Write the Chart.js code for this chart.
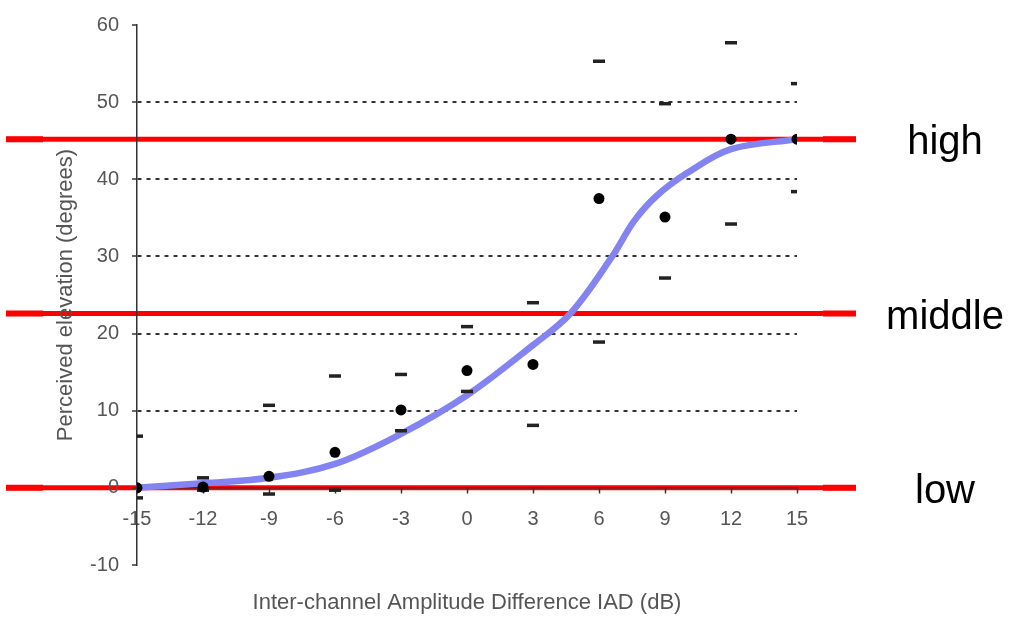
<!DOCTYPE html>
<html><head><meta charset="utf-8">
<script src="https://cdn.jsdelivr.net/npm/chart.js@4/dist/chart.umd.min.js"></script>
<style>html,body{margin:0;padding:0;background:#fff;overflow:hidden}#wrap{width:1009px;height:617px}</style>
</head><body><div id="wrap"><canvas id="c" width="1009" height="617"></canvas></div>
<script>
// ---- data ----
const iadValues   = [-15, -12, -9, -6, -3, 0, 3, 6, 9, 12, 15];
const meanValues  = [0, 0.1, 1.5, 4.6, 10.1, 15.2, 16.0, 37.5, 35.1, 45.2, 45.2];
const upperValues = [6.7, 1.3, 10.7, 14.5, 14.7, 20.9, 24.0, 55.3, 49.8, 57.7, 52.4];
const lowerValues = [-1.3, -0.3, -0.8, -0.3, 7.4, 12.5, 8.1, 18.9, 27.2, 34.2, 38.4];
const curveX = [-15, -12, -9, -6, -3, 0, 3, 4.7, 6.6, 7.6, 8.6, 10, 12, 15];
const curveY = [0, 0.6, 1.3, 3.1, 7.0, 12.0, 18.5, 22.6, 30, 34.6, 37.8, 40.8, 43.9, 45.2];
const levelNames  = ['high', 'middle', 'low'];
const levelValues = [45.2, 22.6, 0];
const xTitle = 'Inter-channel Amplitude Difference IAD (dB)';
const yTitle = 'Perceived elevation (degrees)';

const FONT = "'Liberation Sans', Arial, sans-serif";
const pts = (xs, ys) => xs.map((x, i) => ({x: x, y: ys[i]}));

const levelsPlugin = {
  id: 'levels',
  beforeDraw(chart) {
    const {ctx, chartArea, scales} = chart;
    ctx.save();
    ctx.strokeStyle = '#ff0000';
    levelValues.forEach(v => {
      const y = scales.y.getPixelForValue(v);
      ctx.lineWidth = 5;
      ctx.beginPath(); ctx.moveTo(6, y); ctx.lineTo(chartArea.right + 59, y); ctx.stroke();
      ctx.lineWidth = 6;
      ctx.beginPath(); ctx.moveTo(6, y); ctx.lineTo(chartArea.left - 94, y); ctx.stroke();
      ctx.beginPath(); ctx.moveTo(chartArea.right + 26, y); ctx.lineTo(chartArea.right + 59, y); ctx.stroke();
    });
    ctx.restore();
  },
  afterDraw(chart) {
    const {ctx, chartArea, scales} = chart;
    ctx.save();
    ctx.fillStyle = '#000';
    ctx.font = '40px ' + FONT;
    ctx.textAlign = 'center';
    ctx.textBaseline = 'alphabetic';
    levelNames.forEach((name, i) => {
      const y = scales.y.getPixelForValue(levelValues[i]);
      ctx.fillText(name, chartArea.right + 148, y + 15);
    });
    ctx.restore();
  }
};

new Chart(document.getElementById('c'), {
  type: 'scatter',
  data: {
    datasets: [
      {
        label: 'mean', data: pts(iadValues, meanValues), order: 0,
        pointStyle: 'circle', pointRadius: 5.5, backgroundColor: '#000', borderColor: '#000', borderWidth: 0
      },
      {
        label: 'upper', data: pts(iadValues, upperValues), order: 1,
        pointStyle: 'line', pointRadius: 6, borderColor: '#222', borderWidth: 3.5
      },
      {
        label: 'lower', data: pts(iadValues, lowerValues), order: 1,
        pointStyle: 'line', pointRadius: 6, borderColor: '#222', borderWidth: 3.5
      },
      {
        type: 'line', label: 'fit', data: pts(curveX, curveY), order: 2,
        showLine: true, tension: 0.35, borderColor: '#8383f2',
        borderWidth: 6.5, pointRadius: 0, fill: false, borderCapStyle: 'round'
      }
    ]
  },
  options: {
    responsive: false,
    animation: false,
    devicePixelRatio: 1,
    layout: {padding: {left: 0, top: 20, right: 212, bottom: 52}},
    plugins: {legend: {display: false}, tooltip: {enabled: false}},
    scales: {
      x: {
        type: 'linear', min: -15, max: 15, position: {y: 0},
        ticks: {stepSize: 3, color: '#555', font: {family: FONT, size: 20}, padding: 15},
        grid: {drawOnChartArea: false, drawTicks: true, tickLength: 5, tickColor: '#333', tickWidth: 1.5},
        border: {display: true, color: '#333', width: 1.5},
        title: {display: true, text: xTitle, color: '#555', font: {family: FONT, size: 22}, padding: 0},
        afterFit(s) { s.height = 128.2; }
      },
      y: {
        type: 'linear', min: -10, max: 60, position: 'left',
        ticks: {stepSize: 10, color: '#555', font: {family: FONT, size: 20}, padding: 13},
        grid: {
          color: c => (c.tick && c.tick.value >= 10 && c.tick.value <= 50) ? '#333' : 'rgba(0,0,0,0)',
          lineWidth: 2, drawTicks: true, tickLength: 5, tickColor: '#333', tickWidth: 1.5
        },
        border: {display: true, color: '#333', width: 1.5, dash: [4, 5]},
        title: {display: true, text: yTitle, color: '#555', font: {family: FONT, size: 22}, padding: {top: 53, bottom: 0}},
        afterFit(s) { s.width = 137; }
      }
    }
  },
  plugins: [levelsPlugin]
});
</script></body></html>
